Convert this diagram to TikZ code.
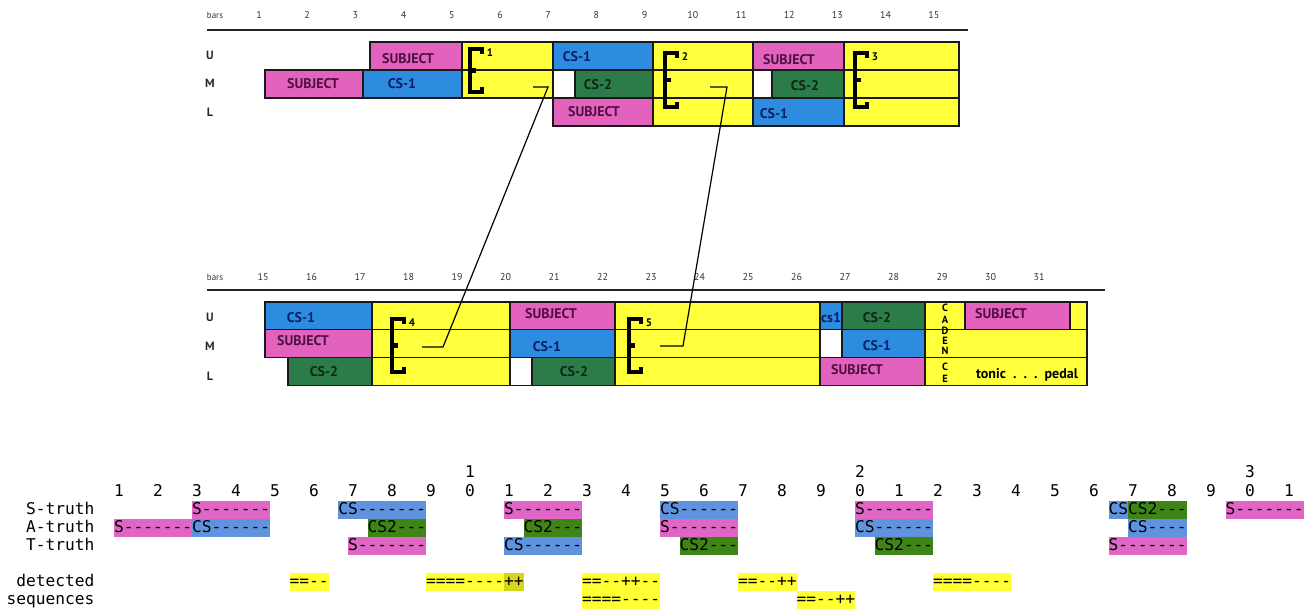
\documentclass[tikz,border=0pt]{standalone}
\usepackage{fontspec}
\setmainfont{PT Sans}
\setmonofont{DejaVu Sans Mono}
\usepackage{tikz}
\usetikzlibrary{math}
\usetikzlibrary{positioning}

\definecolor{subject}{HTML}{E262BD}
\definecolor{csone}{HTML}{2E8CE0}
\definecolor{cstwo}{HTML}{2C7C4A}
\definecolor{epyellow}{HTML}{FFFF3C}
\definecolor{subjtext}{HTML}{4E0E43}
\definecolor{csonetext}{HTML}{0D1F63}
\definecolor{cstwotext}{HTML}{0E2614}
\definecolor{tsubj}{HTML}{E066C5}
\definecolor{tcs}{HTML}{5F93DD}
\definecolor{tcstwo}{HTML}{3F8416}
\definecolor{tseq}{HTML}{FFFF33}
\definecolor{tseqhi}{HTML}{D6D61C}

\tikzset{
  cell/.style={draw=black!90, line width=1.1pt},
  part/.style={font=\fontsize{14}{14}\selectfont\bfseries, inner sep=0pt},
  barnum/.style={font=\fontsize{10}{10}\selectfont, text=black!80, inner sep=0pt},
  voice/.style={font=\fontsize{12}{12}\selectfont\bfseries, text=black!85, inner sep=0pt},
  bracket/.style={line width=4.3pt},
  epnum/.style={font=\fontsize{11}{11}\selectfont\bfseries, inner sep=0pt},
  cad/.style={font=\fontsize{10.5}{10.5}\selectfont\bfseries, inner sep=0pt},
  link/.style={line width=1.2pt},
  rule/.style={line width=1.6pt, black!85},
  mono/.style={font=\ttfamily\fontsize{16.2}{16.2}\selectfont, inner sep=0pt, text height=12pt, text depth=3.5pt},
  truth/.style={mono, anchor=west, minimum height=18pt},
}

\begin{document}
\begin{tikzpicture}[x=1pt, y=-1pt]
  \tikzmath{
    \cw = 9.75;   % one character
    \cxo = 114;   % first column
    \uy = 42;     % top of upper score
    \uh = 28;
    \ly = 302;    % top of lower score
    \lh = 27.7;
  }
  \useasboundingbox (0, 0) rectangle (1311, 612);

  % upper score, bars 1-15
  \node [barnum, font=\fontsize{9}{9}\selectfont] (ubars) at (215, 15) {bars};
  \foreach \n in {1, ..., 15}
    \node [barnum] (ub\n) at ({259+48.2*(\n-1)}, 15) {\n};
  \draw [rule] (207, 30) -- (968, 30);
  \foreach \v/\y in {U/55, M/83, L/112}
    \node [voice] (u\v) at (210, \y) {\v};

  \foreach \xa/\xb/\rw/\fc in {
      370/462/0/subject, 462/553/0/epyellow, 553/653/0/csone, 653/753/0/epyellow,
      753/844/0/subject, 844/959/0/epyellow,
      265/363/1/subject, 363/462/1/csone, 462/553/1/epyellow, 553/575/1/white,
      575/653/1/cstwo, 653/753/1/epyellow, 753/772/1/white, 772/844/1/cstwo, 844/959/1/epyellow,
      553/653/2/subject, 653/753/2/epyellow, 753/844/2/csone, 844/959/2/epyellow} {
    \draw [cell, fill=\fc] (\xa, {\uy+\uh*\rw}) rectangle (\xb, {\uy+\uh*(\rw+1)});
  }
  \foreach \x/\y/\tc/\txt [count=\i] in {
      408/59/subjtext/SUBJECT, 577/57/csonetext/CS-1, 789/60/subjtext/SUBJECT,
      313/84/subjtext/SUBJECT, 402/84/csonetext/CS-1, 598/85/cstwotext/CS-2, 805/86/cstwotext/CS-2,
      594/112/subjtext/SUBJECT, 774/114/csonetext/CS-1}
    \node [part, text=\tc] (up\i) at (\x, \y) {\txt};

  % lower score, bars 15-31
  \node [barnum, font=\fontsize{9}{9}\selectfont] (lbars) at (215, 277) {bars};
  \foreach \n in {15, ..., 31}
    \node [barnum] (lb\n) at ({263+48.5*(\n-15)}, 277) {\n};
  \draw [rule] (207, 290) -- (1105, 290);
  \foreach \v/\y in {U/317, M/346, L/376}
    \node [voice] (l\v) at (210, \y) {\v};

  \foreach \xa/\xb/\rw/\fc in {
      265/372/0/csone, 372/510/0/epyellow, 510/615/0/subject, 615/820/0/epyellow,
      820/842/0/csone, 842/925/0/cstwo, 925/965/0/epyellow, 965/1070/0/subject, 1070/1087/0/epyellow,
      265/372/1/subject, 372/510/1/epyellow, 510/615/1/csone, 615/820/1/epyellow,
      820/842/1/white, 842/925/1/csone, 925/1087/1/epyellow,
      288/372/2/cstwo, 372/510/2/epyellow, 510/532/2/white, 532/615/2/cstwo,
      615/820/2/epyellow, 820/925/2/subject, 925/1087/2/epyellow} {
    \draw [cell, fill=\fc] (\xa, {\ly+\lh*\rw}) rectangle (\xb, {\ly+\lh*(\rw+1)});
  }
  \foreach \x/\y/\tc/\txt [count=\i] in {
      301/318/csonetext/CS-1, 551/314/subjtext/SUBJECT, 831/318/csonetext/cs1,
      877/318/cstwotext/CS-2, 1001/314/subjtext/SUBJECT,
      303/341/subjtext/SUBJECT, 547/347/csonetext/CS-1, 877/346/csonetext/CS-1,
      324/372/cstwotext/CS-2, 574/372/cstwotext/CS-2, 857/370/subjtext/SUBJECT,
      1027/375/black/tonic\ \ .\ \ .\ \ .\ \ pedal}
    \node [part, text=\tc] (lp\i) at (\x, \y) {\txt};
  \foreach \ch/\y [count=\i] in {C/308, A/320, D/331, E/341, N/351, C/367, E/379}
    \node [cad] (cad\i) at (945, \y) {\ch};

  % episodes
  \foreach \x/\ya/\yb/\n in {470/49/92/1, 665/53/107/2, 855/53/107/3, 392/319/372/4, 629/319/372/5} {
    \draw [bracket] (\x+12, \ya+5) -- (\x+12, \ya) -- (\x, \ya) -- (\x, \yb) -- (\x+12, \yb) -- (\x+12, \yb-5);
    \draw [bracket] (\x, {(\ya+\yb)/2}) -- ++(6, 0);
    \node [epnum] (ep\n) at (\x+20, \ya+4) {\n};
  }
  \coordinate (hook1) at (533, 87);
  \coordinate (bend1) at (548, 87);
  \coordinate (bend4) at (443, 347);
  \coordinate (hook4) at (422, 347);
  \draw [link] (hook1) -- (bend1) -- (bend4) -- (hook4);
  \coordinate (hook2) at (710, 87);
  \coordinate (bend2) at (727, 87);
  \coordinate (bend5) at (683, 346);
  \coordinate (hook5) at (660, 346);
  \draw [link] (hook2) -- (bend2) -- (bend5) -- (hook5);

  % truth and detections
  \foreach \n in {1, ..., 31} {
    \pgfmathtruncatemacro\dig{mod(\n, 10)}
    \node [mono] (d\n) at ({\cxo+\cw*(4*\n-4)+\cw/2}, 492) {\dig};
  }
  \foreach \t in {1, 2, 3}
    \node [mono] (dt\t) at ({\cxo+\cw*(40*\t-4)+\cw/2}, 473) {\t};
  \foreach \y/\txt [count=\i] in {510/S-truth, 528/A-truth, 546/T-truth, 582/detected, 600/sequences}
    \node [mono, anchor=east] (lab\i) at (94.5, \y) {\txt};

  \foreach \col/\fc/\txt [count=\i] in {8/tsubj/S-------, 23/tcs/CS-------, 40/tsubj/S-------,
      56/tcs/CS------, 76/tsubj/S-------, 102/tcs/CS, 104/tcstwo/CS2---, 114/tsubj/S-------}
    \node [truth, fill=\fc] (s\i) at ({\cxo+\cw*\col}, 510) {\txt};
  \foreach \col/\fc/\txt [count=\i] in {0/tsubj/S-------, 8/tcs/CS------, 26/tcstwo/CS2---,
      42/tcstwo/CS2---, 56/tsubj/S-------, 76/tcs/CS------, 104/tcs/CS----}
    \node [truth, fill=\fc] (a\i) at ({\cxo+\cw*\col}, 528) {\txt};
  \foreach \col/\fc/\txt [count=\i] in {24/tsubj/S-------, 40/tcs/CS------, 58/tcstwo/CS2---,
      78/tcstwo/CS2---, 102/tsubj/S-------}
    \node [truth, fill=\fc] (t\i) at ({\cxo+\cw*\col}, 546) {\txt};
  \foreach \col/\fc/\txt [count=\i] in {18/tseq/==--, 32/tseq/====----, 40/tseqhi/++,
      48/tseq/==--++--, 64/tseq/==--++, 84/tseq/====----}
    \node [truth, fill=\fc] (q\i) at ({\cxo+\cw*\col}, 582) {\txt};
  \foreach \col/\fc/\txt [count=\i] in {48/tseq/====----, 70/tseq/==--++}
    \node [truth, fill=\fc] (r\i) at ({\cxo+\cw*\col}, 600) {\txt};
\end{tikzpicture}
\end{document}
